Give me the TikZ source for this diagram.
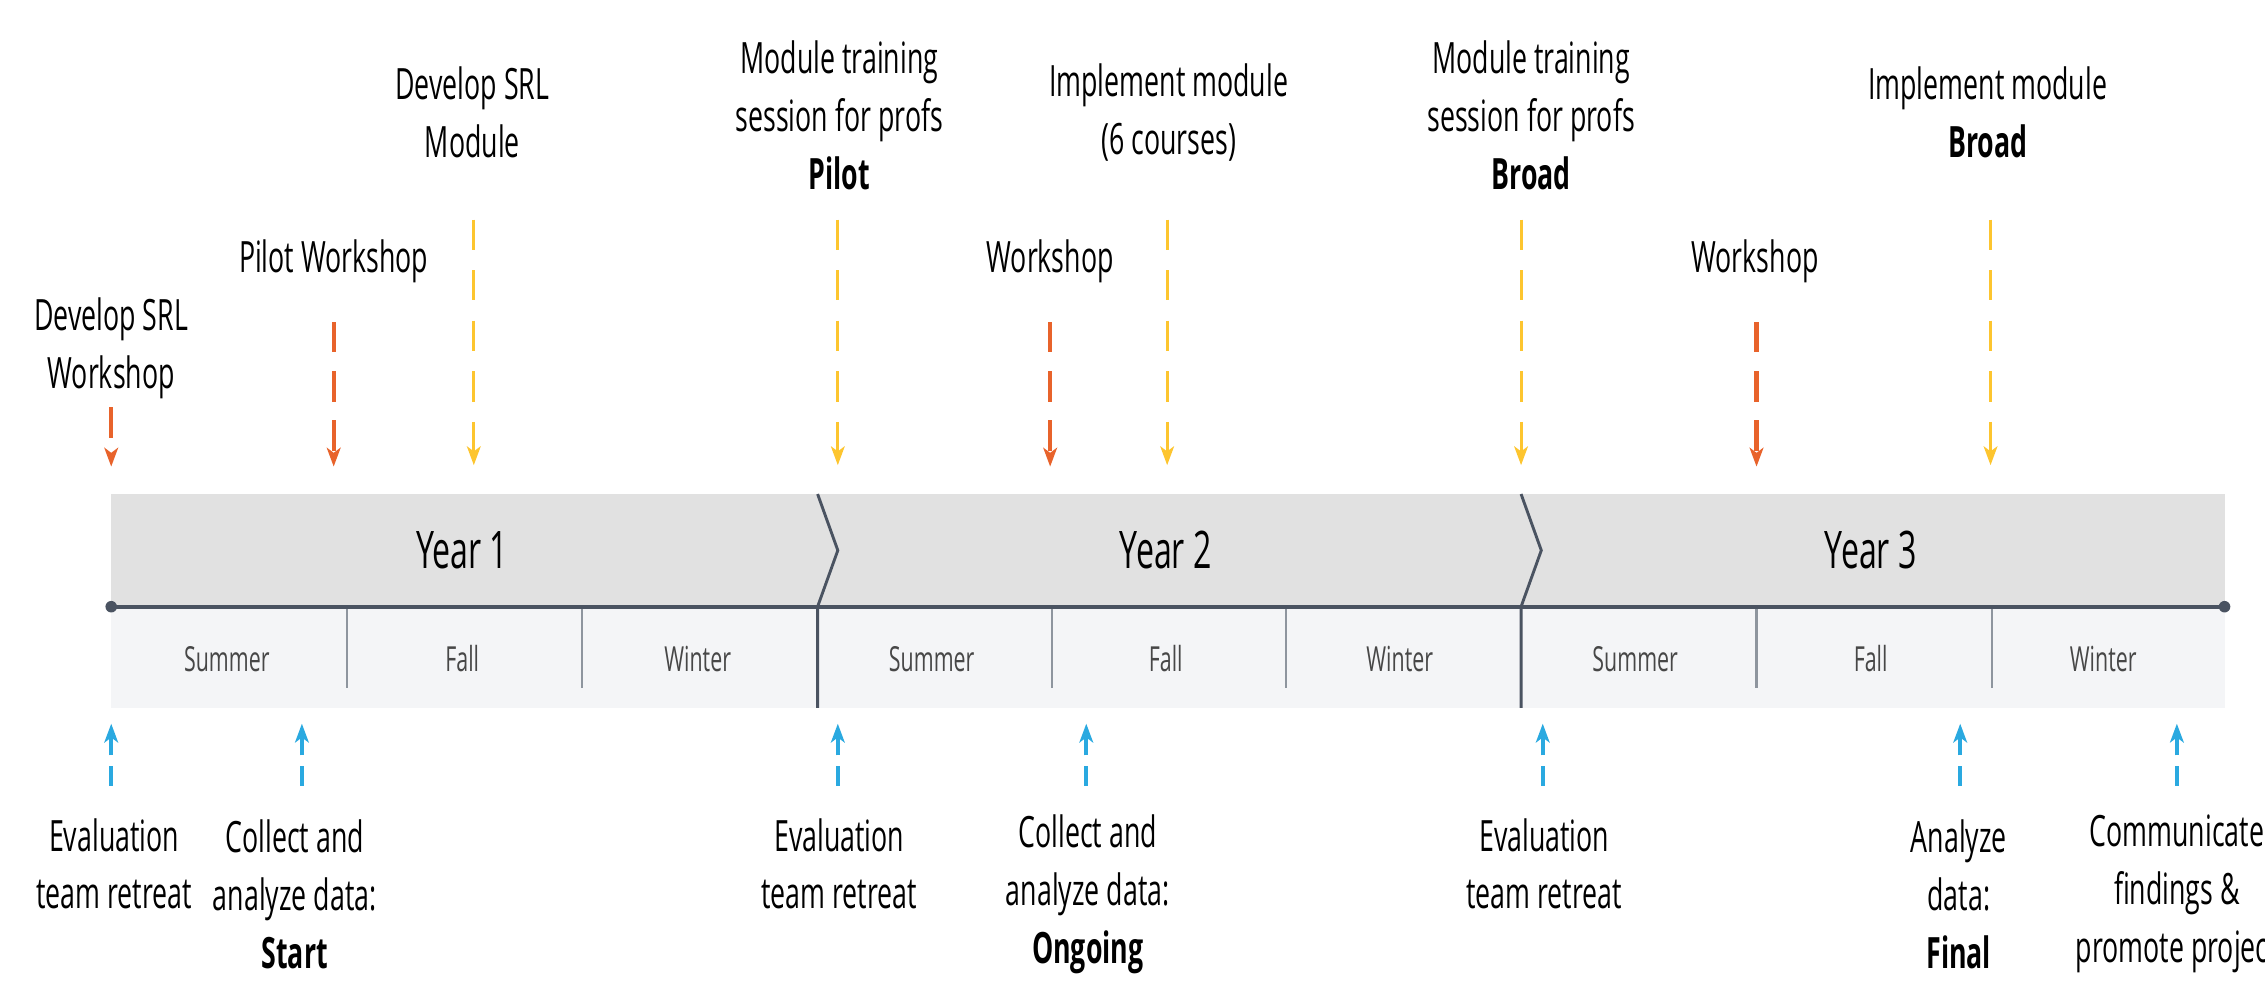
\documentclass[tikz,border=0pt]{standalone}
\usepackage{fontspec}
\setmainfont{Open Sans}[FakeStretch=0.62]
\usetikzlibrary{arrows.meta}

\definecolor{wsorange}{HTML}{E8632B}
\definecolor{modyellow}{HTML}{FDC52F}
\definecolor{evalblue}{HTML}{2AA9E0}
\definecolor{bargray}{HTML}{E1E1E1}
\definecolor{seasongray}{HTML}{F4F5F7}
\definecolor{slate}{HTML}{4A5361}
\definecolor{tickgray}{HTML}{8E959E}

\begin{document}
\begin{tikzpicture}[
        x=0.1mm, y=-0.1mm,
        lbl/.style={align=center, inner sep=0pt, font=\fontsize{8.5}{11.4}\selectfont},
        yearlbl/.style={inner sep=0pt, font=\fontsize{10.2}{12}\selectfont},
        seasonlbl/.style={inner sep=0pt, text=black!72, font=\fontsize{6.8}{8}\selectfont},
        tip/.style={-{Stealth[length=1.3mm, width=0.95mm, inset=0.35mm]}},
        orangearr/.style={tip, wsorange, line width=0.3mm, dash pattern=on 2.1mm off 1.3mm},
        yellowarr/.style={tip, modyellow, line width=0.2mm, dash pattern=on 2.1mm off 1.4mm},
        bluearr/.style={tip, evalblue, line width=0.3mm, dash pattern=on 1.4mm off 0.7mm}
    ]
        \useasboundingbox (0,0) rectangle (1568,683);
        \clip (0,0) rectangle (1568,683);
        \fill[white] (0,0) rectangle (1568,683);

        % Bands of the timeline
        \fill[bargray] (77,342) rectangle (1540,420);
        \fill[seasongray] (77,420) rectangle (1540,490);

        % Season and year dividers
        \foreach \x in {240,403,728,890,1216,1379}
            \draw[tickgray, line width=0.15mm] (\x,420) -- (\x,476);
        \foreach \x in {566,1053}
            \draw[slate, line width=0.2mm] (\x,342) -- (\x+14,381) -- (\x,420) -- (\x,490);

        % Main line
        \coordinate (tl-start) at (77,420);
        \coordinate (tl-end) at (1540,420);
        \draw[slate, line width=0.3mm] (tl-start) -- (tl-end);
        \fill[slate] (tl-start) circle (0.4mm);
        \fill[slate] (tl-end) circle (0.4mm);

        % Years
        \node[yearlbl] (year1) at (320,381) {Year 1};
        \node[yearlbl] (year2) at (807,381) {Year 2};
        \node[yearlbl] (year3) at (1295,381) {Year 3};

        % Seasons
        \foreach \x/\s/\n in {157/Summer/sum1, 320/Fall/fall1, 483/Winter/win1,
                              645/Summer/sum2, 807/Fall/fall2, 969/Winter/win2,
                              1132/Summer/sum3, 1295/Fall/fall3, 1456/Winter/win3}
            \node[seasonlbl] (\n) at (\x,456) {\s};

        % Workshops and module steps (above)
        \node[lbl] (devws) at (77,241) {Develop SRL\\Workshop};
        \node[lbl] (pilotws) at (231,181) {Pilot Workshop};
        \node[lbl] (devmod) at (327,78) {Develop SRL\\Module};
        \node[lbl] (trainpilot) at (581,80) {Module training\\session for profs\\\textbf{Pilot}};
        \node[lbl] (ws2) at (727,181) {Workshop};
        \node[lbl] (impl) at (809,78) {Implement module\\(6 courses)};
        \node[lbl] (trainbroad) at (1060,80) {Module training\\session for profs\\\textbf{Broad}};
        \node[lbl] (ws3) at (1215,181) {Workshop};
        \node[lbl] (implbroad) at (1376,78) {Implement module\\\textbf{Broad}};

        % Evaluation steps (below)
        \node[lbl] (eval1) at (79,598) {Evaluation\\team retreat};
        \node[lbl] (collect1) at (204,619) {Collect and\\analyze data:\\\textbf{Start}};
        \node[lbl] (eval2) at (581,598) {Evaluation\\team retreat};
        \node[lbl] (collect2) at (753,619) {Collect and\\analyze data:\\\textbf{Ongoing}};
        \node[lbl] (eval3) at (1069,598) {Evaluation\\team retreat};
        \node[lbl] (final) at (1356,619) {Analyze\\data:\\\textbf{Final}};
        \node[lbl] (comm) at (1507,619) {Communicate\\findings \&\\promote project};

        % Arrow ends
        \coordinate (devws-a) at (77,282);    \coordinate (devws-b) at (77,323);
        \coordinate (pilotws-a) at (231,223); \coordinate (pilotws-b) at (231,323);
        \coordinate (devmod-a) at (328,152);  \coordinate (devmod-b) at (328,322);
        \coordinate (trainpilot-a) at (580,152); \coordinate (trainpilot-b) at (580,322);
        \coordinate (ws2-a) at (727,223);     \coordinate (ws2-b) at (727,323);
        \coordinate (impl-a) at (808,152);    \coordinate (impl-b) at (808,322);
        \coordinate (trainbroad-a) at (1053,152); \coordinate (trainbroad-b) at (1053,322);
        \coordinate (ws3-a) at (1216,223);    \coordinate (ws3-b) at (1216,323);
        \coordinate (implbroad-a) at (1378,152); \coordinate (implbroad-b) at (1378,322);

        \coordinate (eval1-a) at (77,544);    \coordinate (eval1-b) at (77,501);
        \coordinate (collect1-a) at (209,544); \coordinate (collect1-b) at (209,501);
        \coordinate (eval2-a) at (580,544);   \coordinate (eval2-b) at (580,501);
        \coordinate (collect2-a) at (752,544); \coordinate (collect2-b) at (752,501);
        \coordinate (eval3-a) at (1068,544);  \coordinate (eval3-b) at (1068,501);
        \coordinate (final-a) at (1357,544);  \coordinate (final-b) at (1357,501);
        \coordinate (comm-a) at (1507,544);   \coordinate (comm-b) at (1507,501);

        % Arrows to the timeline
        \draw[orangearr] (devws-a) -- (devws-b);
        \draw[orangearr] (pilotws-a) -- (pilotws-b);
        \draw[orangearr] (ws2-a) -- (ws2-b);
        \draw[orangearr] (ws3-a) -- (ws3-b);
        \draw[yellowarr] (devmod-a) -- (devmod-b);
        \draw[yellowarr] (trainpilot-a) -- (trainpilot-b);
        \draw[yellowarr] (impl-a) -- (impl-b);
        \draw[yellowarr] (trainbroad-a) -- (trainbroad-b);
        \draw[yellowarr] (implbroad-a) -- (implbroad-b);

        \draw[bluearr] (eval1-a) -- (eval1-b);
        \draw[bluearr] (collect1-a) -- (collect1-b);
        \draw[bluearr] (eval2-a) -- (eval2-b);
        \draw[bluearr] (collect2-a) -- (collect2-b);
        \draw[bluearr] (eval3-a) -- (eval3-b);
        \draw[bluearr] (final-a) -- (final-b);
        \draw[bluearr] (comm-a) -- (comm-b);
    \end{tikzpicture}
\end{document}
